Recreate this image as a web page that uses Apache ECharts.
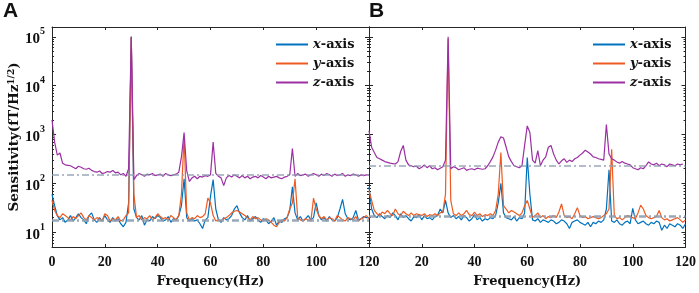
<!DOCTYPE html>
<html>
<head>
<meta charset="utf-8">
<script src="https://cdn.jsdelivr.net/npm/echarts@6/dist/echarts.min.js"></script>
<style>
html,body{margin:0;padding:0;background:#fff;}
#chart{width:699px;height:293px;}
</style>
</head>
<body>
<div id="chart"></div>
<script>
// Frequency step: 1 Hz, 0..120 Hz
const freqStart = 0, freqEnd = 120;
const xTicks = [0, 20, 40, 60, 80, 100, 120];
const seriesNames = ['x-axis', 'y-axis', 'z-axis'];

// Panel A
const xA = [60,35,22,18,20,16,18,22,17,20,24,20,18,15,22,25,18,16,20,17,22,18,16,20,17,19,15,13,16,40,100000,30,20,18,22,14,18,17,21,19,22,20,17,18,21,16,19,18,22,35,125,20,17,19,17,18,15,12,18,20,55,120,30,18,16,20,18,19,22,30,35,25,20,18,22,17,19,21,18,16,19,18,15,17,20,14,17,16,19,20,28,85,25,18,21,17,19,22,18,20,40,22,18,20,17,21,18,17,20,30,47,24,19,18,20,28,18,19,21,20,20];
const yA = [45,28,22,20,24,22,20,18,21,19,22,25,20,18,22,20,18,20,19,17,24,22,17,19,18,21,17,18,22,25,100000,60,20,22,18,20,19,22,18,20,24,21,19,20,18,22,20,18,22,60,900,25,18,20,19,22,20,21,24,50,40,22,17,18,17,19,20,22,25,27,28,26,24,22,20,18,21,19,20,18,17,19,18,16,14,13,16,18,17,20,30,40,125,20,18,17,19,18,17,50,30,22,19,21,18,20,19,17,22,20,18,17,20,19,18,21,17,19,20,22,19];
const zA = [2000,700,380,420,260,240,235,230,215,200,225,215,200,195,205,185,175,170,180,160,165,175,170,185,165,170,150,160,140,200,100000,120,145,160,150,140,155,150,160,145,150,155,140,160,150,145,150,155,170,350,1100,180,110,130,140,125,140,135,145,140,150,700,160,140,130,90,130,145,135,150,140,130,145,130,140,125,135,140,130,145,135,125,140,130,135,140,130,125,135,140,150,520,140,160,145,150,155,140,150,160,150,140,155,145,160,150,140,155,145,150,160,140,150,145,155,150,140,150,145,150,150];
const noiseA = [17.5, 18.5, 148];

// Panel B
const xB = [85,30,22,20,24,21,19,22,20,25,22,18,24,20,22,19,17,21,20,23,18,22,19,20,18,21,22,30,25,45,25,20,22,19,21,18,22,20,17,19,23,18,20,17,19,18,20,19,22,40,100,25,20,19,18,21,17,20,19,25,340,60,18,17,19,16,18,17,16,18,17,15,16,18,17,15,12,16,17,18,16,15,14,16,13,16,15,17,16,18,30,190,17,16,18,15,14,16,17,15,31,18,15,16,17,15,14,16,15,17,16,11,14,12,15,14,13,15,14,12,15];
const yB = [70,45,28,24,22,26,24,28,24,22,30,24,22,27,24,22,25,22,24,23,22,24,21,23,22,24,22,25,26,60,90000,45,24,22,25,22,24,28,23,22,26,22,24,21,23,22,24,22,28,60,430,35,30,25,28,26,24,22,25,35,45,30,20,22,25,20,22,19,21,20,22,20,26,38,22,20,21,19,24,32,22,20,21,19,20,21,20,19,20,22,24,30,500,22,19,20,18,20,22,21,20,19,25,36,30,22,20,19,20,21,28,20,18,19,17,18,19,20,18,16,18];
const zB = [1200,550,430,340,320,300,280,270,260,255,250,280,450,600,300,240,230,220,225,200,215,240,210,230,200,210,190,205,220,300,100000,200,220,210,190,200,210,185,195,200,190,205,200,195,200,230,280,350,480,700,900,850,550,350,280,230,220,210,230,600,1500,1100,300,260,470,230,300,350,550,600,400,300,250,290,320,270,300,280,320,340,380,420,480,440,400,350,340,320,310,300,1600,400,320,300,275,260,280,260,250,240,210,200,190,210,200,230,275,250,240,260,230,250,240,220,250,240,230,250,240,250];
const noiseB = [20.5, 22, 225];

const colors = ['#0072BD', '#EE5A22', '#9B2FA3'];
const refColor = '#8E9DB0';

function pairs(arr) { return arr.map((v, i) => [freqStart + i, v]); }

const yMin = Math.pow(10, 0.7), yMax = Math.pow(10, 5.2);
const frameColor = '#262626';
const tickFont = {fontFamily: 'Liberation Serif', fontWeight: 'bold', fontSize: 14, color: '#111'};

function yLabel(v) {
  const e = Math.log10(v);
  if (Math.abs(e - Math.round(e)) > 1e-6) return '';
  return '{b|10}{s|' + Math.round(e) + '}';
}

function xAxisDef(grid, top, hideMin) {
  return {
    gridIndex: grid, type: 'value', min: freqStart, max: freqEnd, interval: 20,
    position: top ? 'top' : 'bottom',
    axisLine: {show: true, onZero: false, lineStyle: {color: frameColor, width: 1}},
    axisTick: {show: true, inside: true, length: 3, lineStyle: {color: frameColor}},
    splitLine: {show: false},
    axisLabel: top ? {show: false} : Object.assign({show: true, margin: 8, showMinLabel: !hideMin}, tickFont),
    name: top ? '' : 'Frequency(Hz)',
    nameLocation: 'middle', nameGap: 28,
    nameTextStyle: {fontFamily: 'DejaVu Serif', fontWeight: 'bold', fontSize: 13, color: '#111'}
  };
}
function yAxisDef(grid, right, labels) {
  const a = {
    gridIndex: grid, type: 'log', logBase: 10, min: yMin, max: yMax,
    position: right ? 'right' : 'left',
    axisLine: {show: true, onZero: false, lineStyle: {color: frameColor, width: 1}},
    axisTick: {show: true, inside: true, length: 4, lineStyle: {color: frameColor}},
    minorTick: {show: true, splitNumber: 9, length: 2, lineStyle: {color: frameColor}},
    splitLine: {show: false}, minorSplitLine: {show: false},
    axisLabel: {show: labels, margin: 7, formatter: yLabel,
      rich: {
        b: {fontFamily: 'Liberation Serif', fontWeight: 'bold', fontSize: 15, color: '#111', lineHeight: 20, verticalAlign: 'bottom'},
        s: {fontFamily: 'Liberation Serif', fontWeight: 'bold', fontSize: 10, color: '#111', verticalAlign: 'top'}
      }}
  };
  if (labels) {
    a.name = 'Sensitivity(fT/Hz{s|1/2})';
    a.nameLocation = 'middle';
    a.nameGap = 31;
    a.nameRotate = 90;
    a.nameTextStyle = {fontFamily: 'DejaVu Serif', fontWeight: 'bold', fontSize: 13.5, color: '#111',
      rich: {s: {fontFamily: 'DejaVu Serif', fontWeight: 'bold', fontSize: 9, color: '#111', verticalAlign: 'top'}}};
  }
  return a;
}

function lineSeries(idx, data, xi, yi, ref) {
  return {
    name: seriesNames[idx], type: 'line', xAxisIndex: xi, yAxisIndex: yi,
    data: pairs(data), symbol: 'none', showSymbol: false,
    lineStyle: {color: colors[idx], width: 1.2}, itemStyle: {color: colors[idx]},
    animation: false, clip: true, z: 2 + idx,
    markLine: {
      silent: true, symbol: 'none', animation: false, label: {show: false},
      lineStyle: {color: refColor, width: 1.6, type: [7, 3, 2, 3], opacity: 0.9},
      data: [{yAxis: ref}], z: 10
    }
  };
}

function legendDef(left) {
  return {
    orient: 'vertical', left: left, top: 38, itemWidth: 32, itemHeight: 2, itemGap: 6,
    icon: 'rect',
    selectedMode: false, data: seriesNames,
    formatter: n => '{i|' + n.charAt(0) + '}{b|' + n.slice(1) + '}',
    textStyle: {rich: {
      i: {fontFamily: 'DejaVu Serif', fontStyle: 'italic', fontWeight: 'bold', fontSize: 13, color: '#111', lineHeight: 16},
      b: {fontFamily: 'DejaVu Serif', fontWeight: 'bold', fontSize: 13, color: '#111', lineHeight: 16}
    }},
    padding: 0
  };
}

const chart = echarts.init(document.getElementById('chart'), null, {renderer: 'canvas'});
chart.setOption({
  backgroundColor: '#fff',
  animation: false,
  title: [
    {text: 'A', left: 3, top: 1, padding: 0, textStyle: {fontFamily: 'Liberation Sans', fontWeight: 'bold', fontSize: 21, color: '#111'}},
    {text: 'B', left: 369, top: 1, padding: 0, textStyle: {fontFamily: 'Liberation Sans', fontWeight: 'bold', fontSize: 21, color: '#111'}}
  ],
  legend: [legendDef(276), legendDef(593)],
  grid: [
    {left: 52, right: 330, top: 27, bottom: 43},
    {left: 369, right: 12, top: 27, bottom: 43}
  ],
  xAxis: [xAxisDef(0, false, false), xAxisDef(0, true, false), xAxisDef(1, false, true), xAxisDef(1, true, false)],
  yAxis: [yAxisDef(0, false, true), yAxisDef(0, true, false), yAxisDef(1, false, false), yAxisDef(1, true, false)],
  series: [
    lineSeries(0, xA, 0, 0, noiseA[0]),
    lineSeries(1, yA, 0, 0, noiseA[1]),
    lineSeries(2, zA, 0, 0, noiseA[2]),
    lineSeries(0, xB, 2, 2, noiseB[0]),
    lineSeries(1, yB, 2, 2, noiseB[1]),
    lineSeries(2, zB, 2, 2, noiseB[2])
  ]
});
</script>
</body>
</html>
